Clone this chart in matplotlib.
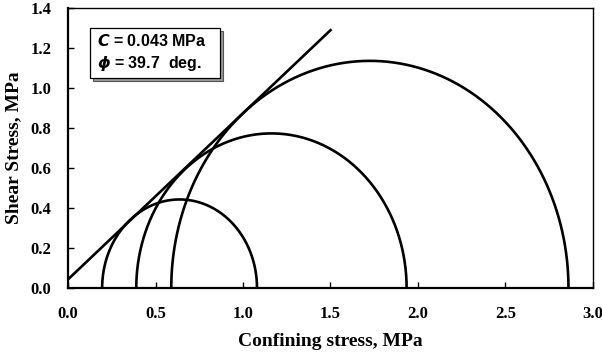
import numpy as np
import matplotlib
matplotlib.use("Agg")
import matplotlib.pyplot as plt
from matplotlib.patches import Rectangle

# Mohr circles: minor and major principal stress (MPa)
sigma3 = [0.195, 0.39, 0.59]
sigma1 = [1.08, 1.935, 2.86]

# failure envelope
cohesion = 0.043
phi_deg = 39.7
env_x = [0.0, 1.5]

x_ticks = [0.0, 0.5, 1.0, 1.5, 2.0, 2.5, 3.0]
y_ticks = [0.0, 0.2, 0.4, 0.6, 0.8, 1.0, 1.2, 1.4]

plt.rcParams["font.family"] = ["Liberation Serif", "DejaVu Serif"]
plt.rcParams["font.weight"] = "bold"
plt.rcParams["axes.labelweight"] = "bold"
plt.rcParams["font.size"] = 12

fig = plt.figure(figsize=(6.02, 3.56), dpi=100)
ax = fig.add_axes([0.113, 0.191, 0.872, 0.787])

for s3, s1 in zip(sigma3, sigma1):
    c = (s1 + s3) / 2
    r = (s1 - s3) / 2
    t = np.linspace(0, np.pi, 300)
    ax.plot(c + r * np.cos(t), r * np.sin(t), color="black", lw=1.9)

ex = np.array(env_x)
ax.plot(ex, cohesion + np.tan(np.radians(phi_deg)) * ex, color="black", lw=1.9)

ax.set_xlim(0, 3.0)
ax.set_ylim(0, 1.4)
ax.set_xticks(x_ticks)
ax.set_yticks(y_ticks)
ax.set_xticklabels([f"{v:.1f}" for v in x_ticks])
ax.set_yticklabels([f"{v:.1f}" for v in y_ticks])
ax.tick_params(direction="in", length=4, width=1, labelsize=12)
ax.tick_params(axis="x", pad=13)
ax.tick_params(axis="y", pad=12)
for sp in ax.spines.values():
    sp.set_linewidth(1.0)
ax.spines["bottom"].set_linewidth(1.6)
ax.spines["left"].set_linewidth(1.6)

ax.set_xlabel("Confining stress, MPa", fontsize=14, fontweight="bold", labelpad=8)
ax.set_ylabel("Shear Stress, MPa", fontsize=14, fontweight="bold", labelpad=6)

# text box with shadow (figure pixel coords)
W, H = 602, 356
def fr(x0, y0, x1, y1):
    return (x0 / W, 1 - y1 / H), (x1 - x0) / W, (y1 - y0) / H

xy, w, h = fr(93, 31, 223, 81)
fig.patches.append(Rectangle(xy, w, h, transform=fig.transFigure,
                             facecolor="#9a9a9a", edgecolor="#555555", lw=0.8))
xy, w, h = fr(90, 28, 220, 78)
fig.patches.append(Rectangle(xy, w, h, transform=fig.transFigure,
                             facecolor="white", edgecolor="black", lw=0.9))

fig.text(97 / W, 1 - 41 / H, r"$\mathbfit{C}$ = 0.043 MPa", fontfamily="Liberation Sans",
         fontweight="bold", fontsize=11.5, va="center", ha="left")
fig.text(97 / W, 1 - 63 / H, r"$\boldsymbol{\phi}$ = 39.7  deg.", fontfamily="Liberation Sans",
         fontweight="bold", fontsize=11.5, va="center", ha="left")

fig.savefig("out.png", dpi=100)
